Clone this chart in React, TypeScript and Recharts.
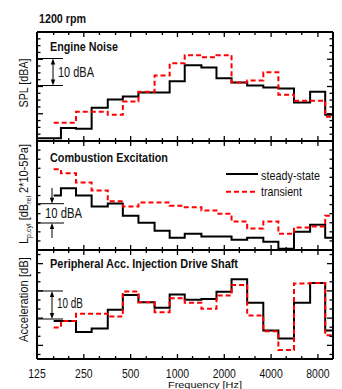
import React from "react";
import { LineChart, Line, XAxis, YAxis } from "recharts";

// 1/3-octave band centre frequencies [Hz]
const bands = [125, 160, 200, 250, 315, 400, 500, 630, 800, 1000, 1250, 1600, 2000, 2500, 3150, 4000, 5000, 6300, 8000, 10000];
const octaveLabels = [125, 250, 500, 1000, 2000, 4000, 8000];
const xTickValues = [125, 160, 200, 250, 315, 400, 500, 630, 800, 1000, 1250, 1600, 2000, 2500, 3150, 4000, 5000, 6300, 8000];

// Engine noise, SPL [dBA] (relative)
const noiseSteady = [1, 1, 4.8, 4.5, 12.2, 15.2, 16.3, 17.8, 17.8, 21.9, 27.8, 27, 23, 21.5, 20.4, 19.6, 19.3, 14.1, 18.1, 9.6];
const noiseTransient = [null, 6.7, 6.7, 10.7, 10.7, 9.6, 14.5, 18.1, 24, 28.5, 31.5, 30.7, 31.5, 21.5, 22.2, 25.2, 17, 14.8, 14.8, 8.9];

// Combustion excitation, cylinder pressure level (relative)
const combSteady = [null, 30, 34, 30, 23.9, 25.6, 18.9, 15, 10.6, 6.7, 8.9, 7.4, 7.4, 5.6, 6.7, 4.6, 0.7, 10, 13.9, 6.7];
const combTransient = [null, 44.4, 42.2, 37.2, 32.8, 26.8, 23.9, 26.1, 26.1, 24.4, 23.5, 21.7, 20, 15.7, 11.8, 15.7, 8.9, 12.4, 12.9, 18.9];

// Peripheral acceleration, injection drive shaft (relative)
const accSteady = [null, 13.9, 13.9, 9.9, 11.2, 18.1, 23.5, 20.8, 18.8, 23.7, 21.7, 22, 24.7, 29.3, 20.6, 10.5, 7.5, 20.6, 27.9, 10.5];
const accTransient = [null, 11.6, 13.9, 16.6, 16.6, 15.6, 24.8, 20.8, 17.2, 22.3, 20.6, 18.4, 23.3, 27.2, 16, 10.2, 3.3, 27.7, 27.9, 8.7];

const W = 342;
const H = 389;
const PLOT_L = 37;
const PLOT_R = 333;
const FONT = "'Liberation Sans', Arial, sans-serif";

// step points: each band drawn from its lower edge, curve starts at first band's centre
function stepPoints(values: (number | null)[]) {
  const pts: { f: number; v: number }[] = [];
  values.forEach((v, i) => {
    if (v == null) return;
    const f = pts.length === 0 ? bands[i] : bands[i] * Math.pow(2, -1 / 6);
    pts.push({ f, v });
  });
  pts.push({ f: 10000, v: pts[pts.length - 1].v });
  return pts;
}

type Side = "left" | "right" | "top" | "bottom";

function makeTick(side: Side, isMajor: (v: number) => boolean, longLen: number, shortLen: number, labels = false) {
  return (props: any) => {
    const { x, y, payload } = props;
    const major = isMajor(payload.value);
    const len = major ? longLen : shortLen;
    const dx = side === "left" ? len : side === "right" ? -len : 0;
    const dy = side === "top" ? len : side === "bottom" ? -len : 0;
    const label = String(payload.value);
    return (
      <g>
        <line x1={x} y1={y} x2={x + dx} y2={y + dy} stroke="#000" strokeWidth={1.3} />
        {labels && octaveLabels.includes(payload.value) && (
          <text x={x} y={y + 19} textAnchor="middle" fontSize={12.5} fontFamily={FONT} fill="#111"
            textLength={label.length * 5.8} lengthAdjust="spacingAndGlyphs">
            {label}
          </text>
        )}
      </g>
    );
  };
}

const isOctave = (v: number) => octaveLabels.includes(v);
const frame = { stroke: "#000", strokeWidth: 2 };

function Panel(props: {
  top: number;
  height: number;
  domain: [number, number];
  yTicks: number[];
  yMajor: (v: number) => boolean;
  steady: (number | null)[];
  transient: (number | null)[];
  xLabels?: boolean;
}) {
  const { top, height, domain, yTicks, yMajor, steady, transient, xLabels } = props;
  const common = { tickSize: 0, tickMargin: 0, axisLine: frame, tickLine: false, interval: 0 as const, allowDataOverflow: true };
  return (
    <div style={{ position: "absolute", left: 0, top: 0 }}>
      <LineChart width={W} height={H} margin={{ top: top - 1, bottom: H - top - height - 1, left: PLOT_L - 1, right: W - PLOT_R - 1 }}>
        <XAxis xAxisId="b" dataKey="f" type="number" scale="log" domain={[125, 10000]} ticks={xTickValues} orientation="bottom" height={1} {...common} tick={makeTick("bottom", isOctave, 5, 3, xLabels)} />
        <XAxis xAxisId="t" dataKey="f" type="number" scale="log" domain={[125, 10000]} ticks={xTickValues} orientation="top" height={1} {...common} tick={makeTick("top", isOctave, 5, 3)} />
        <YAxis yAxisId="l" type="number" domain={domain} ticks={yTicks} width={1} {...common} tick={makeTick("left", yMajor, 6, 3.5)} />
        <YAxis yAxisId="r" type="number" domain={domain} ticks={yTicks} orientation="right" width={1} {...common} tick={makeTick("right", yMajor, 6, 3.5)} />
        <Line xAxisId="b" yAxisId="l" data={stepPoints(steady)} dataKey="v" type="stepAfter" stroke="#000" strokeWidth={2} dot={false} isAnimationActive={false} />
        <Line xAxisId="b" yAxisId="l" data={stepPoints(transient)} dataKey="v" type="stepAfter" stroke="#f00" strokeWidth={2} strokeDasharray="5 3" dot={false} isAnimationActive={false} />
      </LineChart>
    </div>
  );
}

const ticks25 = Array.from({ length: 17 }, (_, i) => i * 2.5);
const ticks5 = Array.from({ length: 13 }, (_, i) => i * 5);
const ticksAcc = Array.from({ length: 12 }, (_, i) => 5 + ((i - 1) * 10) / 3);

function Bracket({ y1, y2, x, label, tx, ty, tw }: { y1: number; y2: number; x: number; label: string; tx: number; ty: number; tw: number }) {
  return (
    <g>
      <line x1={PLOT_L} x2={63} y1={y1} y2={y1} stroke="#000" strokeWidth={1} />
      <line x1={PLOT_L} x2={63} y1={y2} y2={y2} stroke="#000" strokeWidth={1} />
      <line x1={x} x2={x} y1={y1 + 4} y2={y2 - 4} stroke="#000" strokeWidth={1} />
      <polygon points={`${x},${y1} ${x - 2.2},${y1 + 6} ${x + 2.2},${y1 + 6}`} fill="#000" />
      <polygon points={`${x},${y2} ${x - 2.2},${y2 - 6} ${x + 2.2},${y2 - 6}`} fill="#000" />
      <text x={tx} y={ty} fontSize={14} fontFamily={FONT} fill="#111" textLength={tw} lengthAdjust="spacingAndGlyphs">{label}</text>
    </g>
  );
}

function Overlay() {
  const t = { fontFamily: FONT, fill: "#111", lengthAdjust: "spacingAndGlyphs" };
  return (
    <svg width={W} height={H} style={{ position: "absolute", left: 0, top: 0, pointerEvents: "none" }}>
      <text x={39} y={22.5} fontSize={12} fontWeight="bold" textLength={47} {...t}>1200 rpm</text>
      <text x={50} y={51} fontSize={12.5} fontWeight="bold" textLength={68} {...t}>Engine Noise</text>
      <text x={50} y={161.7} fontSize={12.5} fontWeight="bold" textLength={118} {...t}>Combustion Excitation</text>
      <text x={50} y={268.3} fontSize={12.5} fontWeight="bold" textLength={188} {...t}>Peripheral Acc. Injection Drive Shaft</text>

      {/* legend */}
      <line x1={226} x2={258} y1={174} y2={174} stroke="#000" strokeWidth={2} />
      <text x={261} y={179.5} fontSize={13} textLength={59} {...t}>steady-state</text>
      <line x1={226} x2={258} y1={191.7} y2={191.7} stroke="#f00" strokeWidth={2} strokeDasharray="5 3" />
      <text x={261} y={196} fontSize={13} textLength={41} {...t}>transient</text>

      {/* scale brackets */}
      <Bracket y1={58.5} y2={85.5} x={53} label="10 dBA" tx={58} ty={76.7} tw={36} />
      <g>
        <line x1={PLOT_L} x2={64} y1={203.7} y2={203.7} stroke="#000" strokeWidth={1} />
        <line x1={PLOT_L} x2={64} y1={223} y2={223} stroke="#000" strokeWidth={1} />
        <line x1={52} x2={52} y1={188} y2={199} stroke="#000" strokeWidth={1} />
        <polygon points="52,203.7 49.8,197.7 54.2,197.7" fill="#000" />
        <line x1={52} x2={52} y1={228} y2={238} stroke="#000" strokeWidth={1} />
        <polygon points="52,223 49.8,229 54.2,229" fill="#000" />
        <text x={45} y={218.3} fontSize={14} textLength={37} {...t}>10 dBA</text>
      </g>
      <Bracket y1={291} y2={319} x={52} label="10 dB" tx={57} ty={308.3} tw={26} />

      {/* y labels */}
      <text transform="translate(28,83) rotate(-90)" textAnchor="middle" fontSize={12.5} textLength={49} {...t}>SPL [dBA]</text>
      <text transform="translate(28,194) rotate(-90)" textAnchor="middle" fontSize={12.5} textLength={100} {...t}>
        L<tspan fontSize={8} dy={3}>p,cyl</tspan>
        <tspan dy={-3}> [dB</tspan>
        <tspan fontSize={8} dy={3}>rel</tspan>
        <tspan dy={-3}> 2*10-5Pa]</tspan>
      </text>
      <text transform="translate(28,299.5) rotate(-90)" textAnchor="middle" fontSize={12.5} textLength={85} {...t}>Acceleration [dB]</text>

      <text x={205} y={388} textAnchor="middle" fontSize={9} textLength={74} {...t}>Frequency [Hz]</text>
    </svg>
  );
}

export default function App() {
  return (
    <div style={{ position: "absolute", left: 0, top: 0, width: W, height: H, background: "#fff", overflow: "hidden" }}>
      <Panel top={32} height={109} domain={[0, 40]} yTicks={ticks25} yMajor={(v) => v % 10 === 0} steady={noiseSteady} transient={noiseTransient} />
      <Panel top={141} height={109} domain={[0, 60]} yTicks={ticks5} yMajor={() => false} steady={combSteady} transient={combTransient} />
      <Panel top={250} height={109} domain={[0, 40]} yTicks={ticksAcc} yMajor={(v) => Math.abs(((v - 5) / 10) - Math.round((v - 5) / 10)) < 1e-6} steady={accSteady} transient={accTransient} xLabels />
      <Overlay />
    </div>
  );
}
